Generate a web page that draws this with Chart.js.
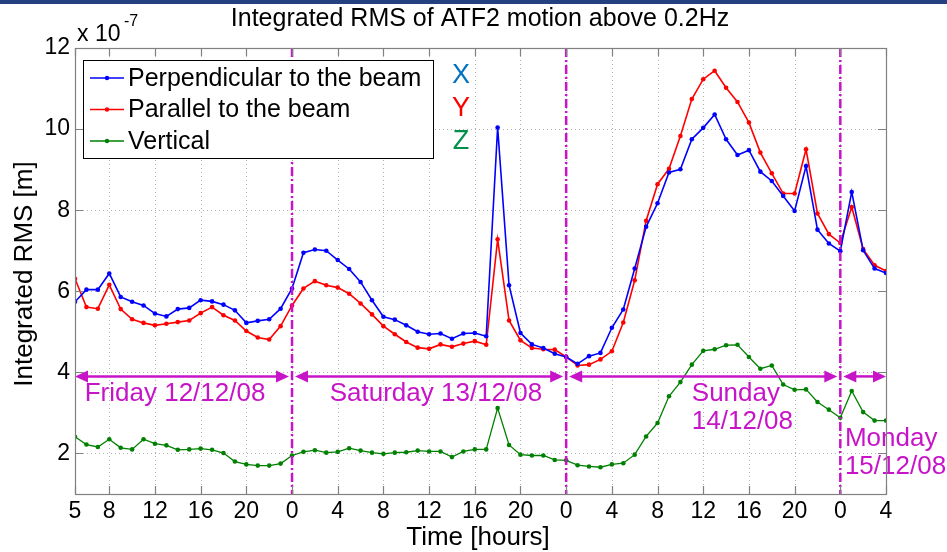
<!DOCTYPE html>
<html>
<head>
<meta charset="utf-8">
<script src="https://cdn.jsdelivr.net/npm/chart.js@4.4.1/dist/chart.umd.min.js"></script>
<style>
  html, body { margin: 0; padding: 0; background: #fff; }
  #wrap { position: relative; width: 947px; height: 552px; }
  #topbar { position: absolute; left: 0; top: 0; width: 947px; height: 4px; background: #24407e; }
</style>
</head>
<body>
<div id="wrap">
  <canvas id="rms-chart" width="947" height="552"></canvas>
  <div id="topbar"></div>
</div>
<script>
// hours counted from Friday 05:00
const hours = [0, 1, 2, 3, 4, 5, 6, 7, 8, 9, 10, 11, 12, 13, 14, 15, 16, 17, 18, 19,
    20, 21, 22, 23, 24, 25, 26, 27, 28, 29, 30, 31, 32, 33, 34, 35, 36, 37, 38, 39,
    40, 41, 42, 43, 44, 45, 46, 47, 48, 49, 50, 51, 52, 53, 54, 55, 56, 57, 58, 59,
    60, 61, 62, 63, 64, 65, 66, 67, 68, 69, 70, 71];

// integrated RMS, units of 1e-7 m
const perpendicular = [5.74, 6.04, 6.04, 6.44, 5.86, 5.74, 5.65, 5.45, 5.38, 5.56,
    5.59, 5.78, 5.75, 5.67, 5.53, 5.22, 5.27, 5.31, 5.57, 6.07,
    6.95, 7.03, 7.00, 6.77, 6.55, 6.23, 5.78, 5.37, 5.30, 5.16,
    5.00, 4.94, 4.96, 4.83, 4.96, 4.97, 4.89, 10.04, 6.15, 4.97,
    4.69, 4.60, 4.46, 4.38, 4.21, 4.40, 4.48, 5.10, 5.55, 6.56,
    7.59, 8.17, 8.93, 9.01, 9.75, 10.03, 10.36, 9.75, 9.36, 9.48,
    8.95, 8.72, 8.35, 7.98, 9.09, 7.52, 7.18, 6.99, 8.45, 7.01,
    6.56, 6.45];
const parallel = [6.31, 5.61, 5.57, 6.16, 5.56, 5.31, 5.22, 5.16, 5.20, 5.24,
    5.28, 5.46, 5.61, 5.41, 5.28, 5.02, 4.86, 4.81, 5.14, 5.65,
    6.07, 6.25, 6.15, 6.09, 5.94, 5.70, 5.43, 5.14, 4.94, 4.75,
    4.61, 4.58, 4.69, 4.63, 4.71, 4.77, 4.68, 7.28, 5.28, 4.79,
    4.60, 4.57, 4.56, 4.38, 4.17, 4.19, 4.32, 4.52, 5.23, 6.27,
    7.74, 8.64, 9.02, 9.83, 10.74, 11.23, 11.44, 11.02, 10.67, 10.16,
    9.42, 8.91, 8.41, 8.41, 9.50, 7.92, 7.41, 7.19, 8.08, 7.04,
    6.64, 6.50];
const vertical = [2.41, 2.22, 2.16, 2.35, 2.14, 2.10, 2.35, 2.24, 2.20, 2.09,
    2.10, 2.12, 2.09, 2.01, 1.80, 1.73, 1.70, 1.70, 1.75, 1.95,
    2.04, 2.08, 2.02, 2.04, 2.13, 2.07, 2.02, 1.99, 2.02, 2.03,
    2.07, 2.05, 2.05, 1.91, 2.05, 2.10, 2.10, 3.12, 2.21, 1.97,
    1.95, 1.95, 1.84, 1.83, 1.71, 1.68, 1.66, 1.73, 1.76, 1.97,
    2.42, 2.75, 3.41, 3.76, 4.19, 4.53, 4.57, 4.67, 4.68, 4.38,
    4.09, 4.17, 3.70, 3.57, 3.58, 3.27, 3.08, 2.88, 3.54, 3.02,
    2.81, 2.81];

const seriesNames = ['Perpendicular to the beam', 'Parallel to the beam', 'Vertical'];
const axisLetters = ['X', 'Y', 'Z'];

const tickHours = [0, 3, 7, 11, 15, 19, 23, 27, 31, 35, 39, 43, 47, 51, 55, 59, 63, 67, 71];
const tickLabels = ['5', '8', '12', '16', '20', '0', '4', '8', '12', '16', '20', '0', '4', '8', '12', '16', '20', '0', '4'];
const yTicks = [2, 4, 6, 8, 10, 12];

const dayBounds = [0, 19, 43, 67, 71];
const dayNames = [['Friday 12/12/08'], ['Saturday 13/12/08'], ['Sunday', '14/12/08'], ['Monday', '15/12/08']];

const FONT = '"Liberation Sans", Arial, sans-serif';
const MAGENTA = '#c814c8';
const lineColors = ['#0000ff', '#ff0000', '#008000'];
const letterColors = ['#0070c0', '#ff0000', '#00904a'];

// where the day names sit (hour, value, align)
const dayLabelPos = [
    { x: 8.76, y: 3.48, align: 'center' },
    { x: 22.3, y: 3.48, align: 'left' },
    { x: 54.0, y: 3.48, align: 'left' },
    { x: 67.4, y: 2.35, align: 'left' }
];
const arrowValue = 3.9;

function points(values) {
    return values.map((v, i) => ({ x: hours[i], y: v }));
}

const decor = {
    id: 'decor',
    beforeDatasetsDraw(chart) {
        const { ctx, chartArea: a, scales: { x, y } } = chart;
        ctx.save();
        ctx.strokeStyle = '#b4b4b4';
        ctx.lineWidth = 1;
        ctx.setLineDash([1, 3]);
        tickHours.forEach(h => {
            const px = Math.round(x.getPixelForValue(h)) + 0.5;
            ctx.beginPath(); ctx.moveTo(px, a.top); ctx.lineTo(px, a.bottom); ctx.stroke();
        });
        yTicks.forEach(v => {
            const py = Math.round(y.getPixelForValue(v)) + 0.5;
            ctx.beginPath(); ctx.moveTo(a.left, py); ctx.lineTo(a.right, py); ctx.stroke();
        });
        ctx.restore();
    },
    afterDatasetsDraw(chart) {
        const { ctx, chartArea: a, scales: { x, y } } = chart;
        ctx.save();

        // magenta day separators
        ctx.strokeStyle = MAGENTA;
        ctx.lineWidth = 2.5;
        ctx.setLineDash([9, 3, 2, 3]);
        dayBounds.slice(1, -1).forEach(h => {
            const px = x.getPixelForValue(h);
            ctx.beginPath(); ctx.moveTo(px, a.top); ctx.lineTo(px, a.bottom); ctx.stroke();
        });
        ctx.setLineDash([]);

        // double arrows for each day
        const ay = y.getPixelForValue(arrowValue);
        ctx.fillStyle = MAGENTA;
        for (let i = 0; i < dayBounds.length - 1; i++) {
            const x0 = x.getPixelForValue(dayBounds[i]) + (i === 0 ? 0 : 3);
            const x1 = x.getPixelForValue(dayBounds[i + 1]) - (i === dayBounds.length - 2 ? 0 : 3);
            ctx.beginPath(); ctx.moveTo(x0 + 6, ay); ctx.lineTo(x1 - 6, ay); ctx.stroke();
            ctx.beginPath(); ctx.moveTo(x0, ay); ctx.lineTo(x0 + 13, ay - 6); ctx.lineTo(x0 + 13, ay + 6); ctx.closePath(); ctx.fill();
            ctx.beginPath(); ctx.moveTo(x1, ay); ctx.lineTo(x1 - 13, ay - 6); ctx.lineTo(x1 - 13, ay + 6); ctx.closePath(); ctx.fill();
        }

        // day names
        ctx.font = '26px ' + FONT;
        ctx.textBaseline = 'middle';
        dayNames.forEach((lines, i) => {
            const p = dayLabelPos[i];
            ctx.textAlign = p.align;
            lines.forEach((t, k) => {
                ctx.fillText(t, x.getPixelForValue(p.x), y.getPixelForValue(p.y) + k * 28);
            });
        });

        // axes box and inward ticks
        ctx.strokeStyle = '#808080';
        ctx.lineWidth = 1.2;
        ctx.strokeRect(a.left + 0.5, a.top + 0.5, a.right - a.left, a.bottom - a.top);
        ctx.beginPath();
        tickHours.forEach(h => {
            const px = Math.round(x.getPixelForValue(h)) + 0.5;
            ctx.moveTo(px, a.bottom); ctx.lineTo(px, a.bottom - 8);
            ctx.moveTo(px, a.top); ctx.lineTo(px, a.top + 8);
        });
        yTicks.forEach(v => {
            const py = Math.round(y.getPixelForValue(v)) + 0.5;
            ctx.moveTo(a.left, py); ctx.lineTo(a.left + 8, py);
            ctx.moveTo(a.right, py); ctx.lineTo(a.right - 8, py);
        });
        ctx.stroke();

        // legend box
        ctx.fillStyle = '#fff';
        ctx.fillRect(83, 60, 350, 98);
        ctx.strokeStyle = '#000';
        ctx.lineWidth = 1;
        ctx.strokeRect(83.5, 60.5, 350, 98);
        ctx.font = '25px ' + FONT;
        ctx.textAlign = 'left';
        seriesNames.forEach((name, i) => {
            const ry = 78 + i * 31.5;
            ctx.strokeStyle = lineColors[i];
            ctx.lineWidth = 1.3;
            ctx.beginPath(); ctx.moveTo(90, ry); ctx.lineTo(124, ry); ctx.stroke();
            ctx.fillStyle = lineColors[i];
            ctx.beginPath(); ctx.arc(107, ry, 2.2, 0, Math.PI * 2); ctx.fill();
            ctx.fillStyle = '#000';
            ctx.fillText(name, 128, ry + 1);
        });

        // X Y Z letters
        ctx.font = '27px ' + FONT;
        ctx.textAlign = 'center';
        axisLetters.forEach((t, i) => {
            ctx.fillStyle = letterColors[i];
            ctx.fillText(t, 461, 76 + i * 33);
        });

        // title, exponent, axis titles
        ctx.fillStyle = '#000';
        ctx.font = '25px ' + FONT;
        ctx.textAlign = 'center';
        ctx.fillText('Integrated RMS of ATF2 motion above 0.2Hz', 480, 19);
        ctx.font = '23px ' + FONT;
        ctx.textAlign = 'left';
        ctx.fillText('x 10', 77, 35);
        ctx.font = '16px ' + FONT;
        ctx.fillText('-7', 124, 22);
        ctx.font = '26px ' + FONT;
        ctx.textAlign = 'center';
        ctx.fillText('Time [hours]', 478, 538);
        ctx.translate(25, 274);
        ctx.rotate(-Math.PI / 2);
        ctx.fillText('Integrated RMS [m]', 0, 0);

        ctx.restore();
    }
};

const ctx = document.getElementById('rms-chart').getContext('2d');
new Chart(ctx, {
    type: 'line',
    data: {
        datasets: [perpendicular, parallel, vertical].map((vals, i) => ({
            label: seriesNames[i],
            data: points(vals),
            borderColor: lineColors[i],
            backgroundColor: lineColors[i],
            borderWidth: i === 2 ? 1.3 : 1.6,
            pointRadius: 2.3,
            pointBorderWidth: 0,
            pointBackgroundColor: lineColors[i],
            tension: 0,
            fill: false
        }))
    },
    options: {
        responsive: false,
        animation: false,
        layout: { padding: { top: 48, right: 61, left: 0, bottom: 0 } },
        scales: {
            x: {
                type: 'linear',
                min: 0,
                max: 71,
                grid: { display: false, drawTicks: false },
                border: { display: false },
                afterBuildTicks: (scale) => { scale.ticks = tickHours.map(v => ({ value: v })); },
                afterFit: (scale) => { scale.height = 58; },
                ticks: {
                    autoSkip: false,
                    maxRotation: 0,
                    padding: 4,
                    color: '#000',
                    font: { family: FONT, size: 23 },
                    callback: (value) => tickLabels[tickHours.indexOf(value)]
                }
            },
            y: {
                min: 1,
                max: 12,
                grid: { display: false, drawTicks: false },
                border: { display: false },
                afterBuildTicks: (scale) => { scale.ticks = yTicks.map(v => ({ value: v })); },
                afterFit: (scale) => { scale.width = 75; },
                ticks: {
                    padding: 5,
                    color: '#000',
                    font: { family: FONT, size: 23 }
                }
            }
        },
        plugins: {
            legend: { display: false },
            tooltip: { enabled: false }
        }
    },
    plugins: [decor]
});
</script>
</body>
</html>
